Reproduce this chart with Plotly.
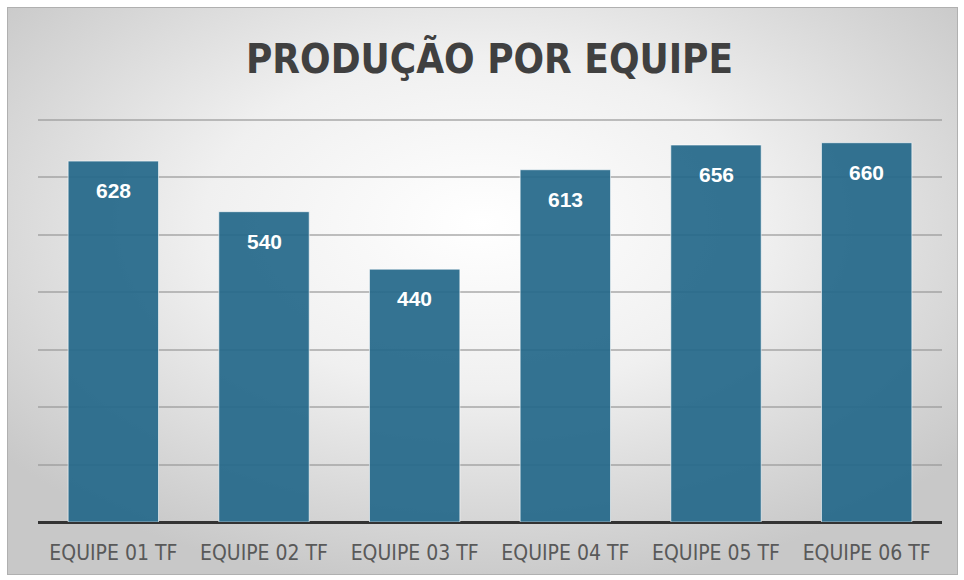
import plotly.graph_objects as go

categories = ["EQUIPE 01 TF", "EQUIPE 02 TF", "EQUIPE 03 TF", "EQUIPE 04 TF", "EQUIPE 05 TF", "EQUIPE 06 TF"]
values = [628, 540, 440, 613, 656, 660]
grid_vals = [100, 200, 300, 400, 500, 600, 700]
title_text = "PRODUÇÃO POR EQUIPE"

W, H = 964, 580
ml, mr, mt, mb = 38, 22, 114, 58
pw, ph = W - ml - mr, H - mt - mb

svg = ("data:image/svg+xml;utf8,"
       "<svg xmlns='http://www.w3.org/2000/svg' width='951' height='568' preserveAspectRatio='none'>"
       "<defs><radialGradient id='g' cx='50%' cy='38%' r='65%'>"
       "<stop offset='0%' stop-color='%23ffffff'/><stop offset='45%' stop-color='%23f0f0f0'/>"
       "<stop offset='100%' stop-color='%23c8c8c8'/></radialGradient></defs>"
       "<rect width='951' height='568' fill='url(%23g)' stroke='%23b0b0b0' stroke-width='2'/></svg>")

def px2paper_x(px):
    return (px - ml) / pw

def px2paper_y(py):
    return (H - mb - py) / ph

narrow = "Liberation Sans Narrow, DejaVu Sans Condensed, Arial Narrow, sans-serif"

fig = go.Figure()
fig.add_trace(go.Bar(
    x=categories, y=values,
    marker=dict(color="rgba(37,104,138,0.93)", line=dict(color="rgba(255,255,255,0.6)", width=1)),
    width=0.6, hoverinfo="x+y",
))

annotations = [dict(x=c, y=v, text=f"<b>{v}</b>", showarrow=False, yanchor="top", yshift=-16,
                    font=dict(family="Liberation Sans, Arial", size=21, color="white"))
               for c, v in zip(categories, values)]
annotations.append(dict(xref="paper", yref="paper", x=px2paper_x(489), y=px2paper_y(58),
                        text=f"<b>{title_text}</b>", showarrow=False, xanchor="center", yanchor="middle",
                        font=dict(family=narrow, size=40, color="#404040")))

fig.update_layout(
    width=W, height=H,
    margin=dict(l=ml, r=mr, t=mt, b=mb),
    paper_bgcolor="white", plot_bgcolor="rgba(0,0,0,0)",
    showlegend=False,
    annotations=annotations,
    images=[dict(source=svg, xref="paper", yref="paper",
                 x=px2paper_x(7), y=px2paper_y(7),
                 sizex=(958 - 7) / pw, sizey=(575 - 7) / ph,
                 xanchor="left", yanchor="top", sizing="stretch", layer="below")],
    xaxis=dict(showgrid=False, tickfont=dict(family=narrow, size=21, color="#595959"),
               ticks="", showline=False, ticklabelstandoff=16),
    yaxis=dict(range=[0, 710], tickvals=grid_vals, showticklabels=False,
               gridcolor="rgba(150,150,150,0.6)", gridwidth=1.5,
               zeroline=True, zerolinecolor="#333333", zerolinewidth=3, showline=False),
)

fig.write_html("out.html")
